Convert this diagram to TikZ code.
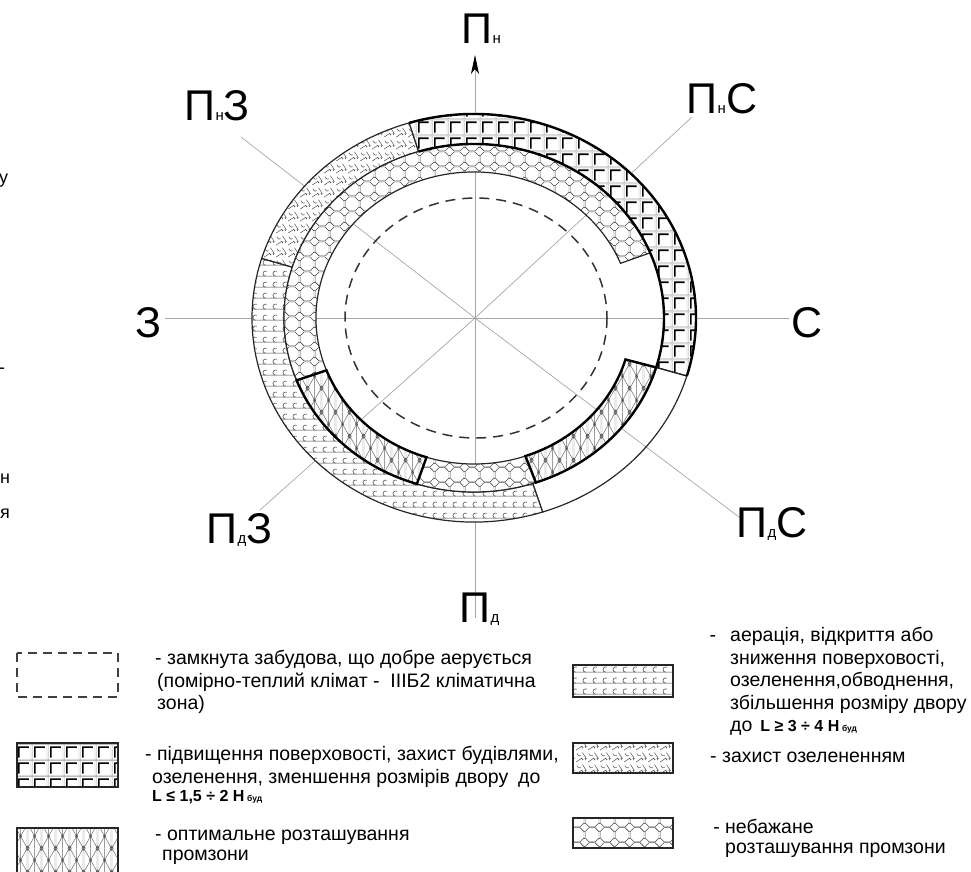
\documentclass[tikz,border=0pt]{standalone}
\usepackage{fontspec}
\setmainfont{Liberation Sans}
\usetikzlibrary{arrows.meta,patterns.meta}

\tikzdeclarepattern{name=bldg,type=colored,
  bounding box={(0pt,0pt) and (16pt,16pt)},tile size={(16pt,16pt)},
  code={
    \draw[black!40,line width=0.6pt] (0pt,0pt) rectangle (16pt,16pt);
    \draw[black,line width=1.6pt] (3pt,2.5pt) -- (3pt,13.5pt) -- (13.5pt,13.5pt);
  }}
\tikzdeclarepattern{name=octa,type=colored,
  bounding box={(0pt,0pt) and (15pt,15pt)},tile size={(15pt,15pt)},
  code={
    \draw[black!70,line width=0.6pt] (4.4pt,0pt) -- (10.6pt,0pt) -- (15pt,4.4pt) -- (15pt,10.6pt)
      -- (10.6pt,15pt) -- (4.4pt,15pt) -- (0pt,10.6pt) -- (0pt,4.4pt) -- cycle;
  }}
\tikzdeclarepattern{name=wave,type=colored,
  bounding box={(0pt,0pt) and (10pt,11pt)},tile size={(10pt,11pt)},
  code={
    \draw[black!75,line width=0.55pt] (0pt,2pt) -- (10pt,2pt);
    \draw[black!75,line width=0.55pt] (6pt,2pt) arc[start angle=-90,end angle=-300,radius=2.8pt];
  }}
\tikzdeclarepattern{name=twist,type=colored,
  bounding box={(0pt,0pt) and (12pt,12pt)},tile size={(12pt,12pt)},
  code={
    \draw[black!70,line width=0.55pt] (0pt,2pt) .. controls (3pt,2pt) and (3pt,6pt) .. (6pt,6pt)
      .. controls (8pt,6pt) and (8pt,4pt) .. (6.5pt,4pt);
    \draw[black!70,line width=0.55pt] (7pt,12pt) .. controls (7pt,9pt) and (11pt,9pt) .. (11pt,6pt)
      .. controls (11pt,4.5pt) and (9.5pt,4.5pt) .. (9.5pt,6pt);
    \draw[black!70,line width=0.55pt] (1pt,11pt) .. controls (3pt,8pt) .. (5pt,9pt);
  }}
\tikzdeclarepattern{name=lattice,type=colored,
  bounding box={(0pt,0pt) and (14pt,24.25pt)},tile size={(14pt,24.25pt)},
  code={
    \draw[black!60,line width=0.5pt] (0pt,0pt) -- (14pt,24.25pt) (14pt,0pt) -- (0pt,24.25pt)
      (0pt,0pt) -- (0pt,24.25pt) (7pt,0pt) -- (7pt,24.25pt) (14pt,0pt) -- (14pt,24.25pt);
    \draw[black!70,line width=0.5pt] (7pt,12.125pt) circle (1.3pt);
    \draw[black!70,line width=0.5pt] (0pt,0pt) circle (1.3pt) (14pt,0pt) circle (1.3pt)
      (0pt,24.25pt) circle (1.3pt) (14pt,24.25pt) circle (1.3pt);
  }}

\newcommand{\outerseg}[2]{(#1:222 and 204) arc[start angle=#1,end angle=#2,x radius=222,y radius=204]
  -- (#2:190 and 174) arc[start angle=#2,end angle=#1,x radius=190,y radius=174] -- cycle}
\newcommand{\innerseg}[2]{(#1:190 and 174) arc[start angle=#1,end angle=#2,x radius=190,y radius=174]
  -- (#2:158 and 146) arc[start angle=#2,end angle=#1,x radius=158,y radius=146] -- cycle}
\newcommand{\lsub}[1]{{\fontsize{15}{15}\selectfont #1}}
\newcommand{\hb}[1]{{\fontsize{16}{16}\selectfont\bfseries #1\,{\fontsize{8.5}{8.5}\selectfont буд}}}

\begin{document}
\begin{tikzpicture}[x=1pt,y=-1pt,
  axis/.style={draw=black!35,line width=0.7pt},
  ring/.style={draw=black!85,line width=1.2pt},
  heavy/.style={draw=black,line width=2.4pt},
  compass/.style={font=\fontsize{43}{43}\selectfont,inner sep=0pt,anchor=base west},
  legend/.style={font=\fontsize{19.5}{22.5}\selectfont,inner sep=0pt,anchor=north west,align=left},
  frag/.style={font=\fontsize{18}{18}\selectfont,inner sep=0pt,anchor=base west},
  swatch/.style={draw=black!85,line width=1.2pt,preaction={fill=white}}]
\useasboundingbox (0,0) rectangle (971,871);

\coordinate (c) at (475,318);
\coordinate (eN) at (475,55);
\coordinate (eNE) at (692,117);
\coordinate (eE) at (789,318);
\coordinate (eSE) at (743,520);
\coordinate (eS) at (475,618);
\coordinate (eSW) at (260,510);
\coordinate (eW) at (165,318);
\coordinate (eNW) at (241,137);
\draw[axis] (eW) -- (eE);
\draw[axis] (c) -- (eS);
\draw[axis,-{Stealth[length=19pt,width=8pt,inset=5pt,color=black]}] (c) -- (eN);
\draw[axis] (c) -- (eNE);
\draw[axis] (c) -- (eSW);
\draw[axis] (c) -- (eNW);
\draw[axis] (c) -- (eSE);

\begin{scope}[shift={(474,318)}]
\path[ring,preaction={fill=white},pattern=bldg] \outerseg{253}{376.5};
\path[ring] \outerseg{16.5}{72};
\path[ring,preaction={fill=white},pattern=wave] \outerseg{72}{197};
\path[ring,preaction={fill=white},pattern=twist] \outerseg{197}{253};
\path[ring,preaction={fill=white},pattern=octa] \innerseg{159}{338};
\path[ring,preaction={fill=white},pattern=octa] \innerseg{71}{107.5};
\path[heavy,preaction={fill=white},pattern=lattice] \innerseg{16.5}{71};
\path[heavy,preaction={fill=white},pattern=lattice] \innerseg{107.5}{159};
\draw[heavy] (253:222 and 204) arc[start angle=253,end angle=376.5,x radius=222,y radius=204];
\draw[heavy] (253:190 and 174) arc[start angle=253,end angle=376.5,x radius=190,y radius=174];
\end{scope}
\draw[black!80,line width=1.5pt,dash pattern=on 10pt off 7pt] (476,318) ellipse [x radius=131,y radius=120];

\node[compass] (pN) at (461.6,43) {П\lsub{н}};
\node[compass] (pNE) at (686.6,113) {П\lsub{н}С};
\node[compass] (pE) at (791,337) {С};
\node[compass] (pSE) at (736.6,537) {П\lsub{д}С};
\node[compass] (pS) at (459.6,622) {П\lsub{д}};
\node[compass] (pSW) at (206.6,543) {П\lsub{д}З};
\node[compass] (pW) at (135,337) {З};
\node[compass] (pNW) at (184.6,120) {П\lsub{н}З};

\node[frag] (f1) at (-1,183) {у};
\node[frag] (f2) at (-1,373) {-};
\node[frag] (f3) at (0,483) {н};
\node[frag] (f4) at (0,518) {я};

\draw[black!75,line width=1.5pt,dash pattern=on 9pt off 6pt] (17,653) rectangle (118,697);
\path[swatch,pattern=bldg] (17,743) rectangle (118,787);
\path[swatch,pattern=lattice] (17,828) rectangle (118,875);
\path[swatch,pattern=wave] (573,665) rectangle (673,697);
\path[swatch,pattern=twist] (573,743) rectangle (673,773);
\path[swatch,pattern=octa] (573,818) rectangle (673,848);

\node[legend] (t1) at (155,650) {- замкнута забудова, що добре аерується\\
  \hspace*{2pt}(помірно-теплий клімат -\ \ IIIБ2 кліматична\\
  \hspace*{2pt}зона)};
\node[legend] (t2) at (145,746) {- підвищення поверховості, захист будівлями,\\
  \hspace*{7pt}озеленення, зменшення розмірів двору\hspace{10pt}до\\[-4pt]
  \hspace*{7pt}\hb{L ≤ 1,5 ÷ 2 H}};
\node[legend] (t3) at (155,830) {- оптимальне розташування\\[-3pt]
  \hspace*{7pt}промзони};
\node[legend] (t4) at (730,627) {\llap{-\hspace{14pt}}аерація, відкриття або\\
  зниження поверховості,\\
  озеленення,обводнення,\\
  збільшення розміру двору\\
  до\hspace{8pt}\hb{L ≥ 3 ÷ 4 H}};
\node[legend] (t5) at (710,752) {- захист озелененням};
\node[legend] (t6) at (725,819) {\llap{-\ }небажане\\[-3pt]
  розташування промзони};
\end{tikzpicture}
\end{document}
